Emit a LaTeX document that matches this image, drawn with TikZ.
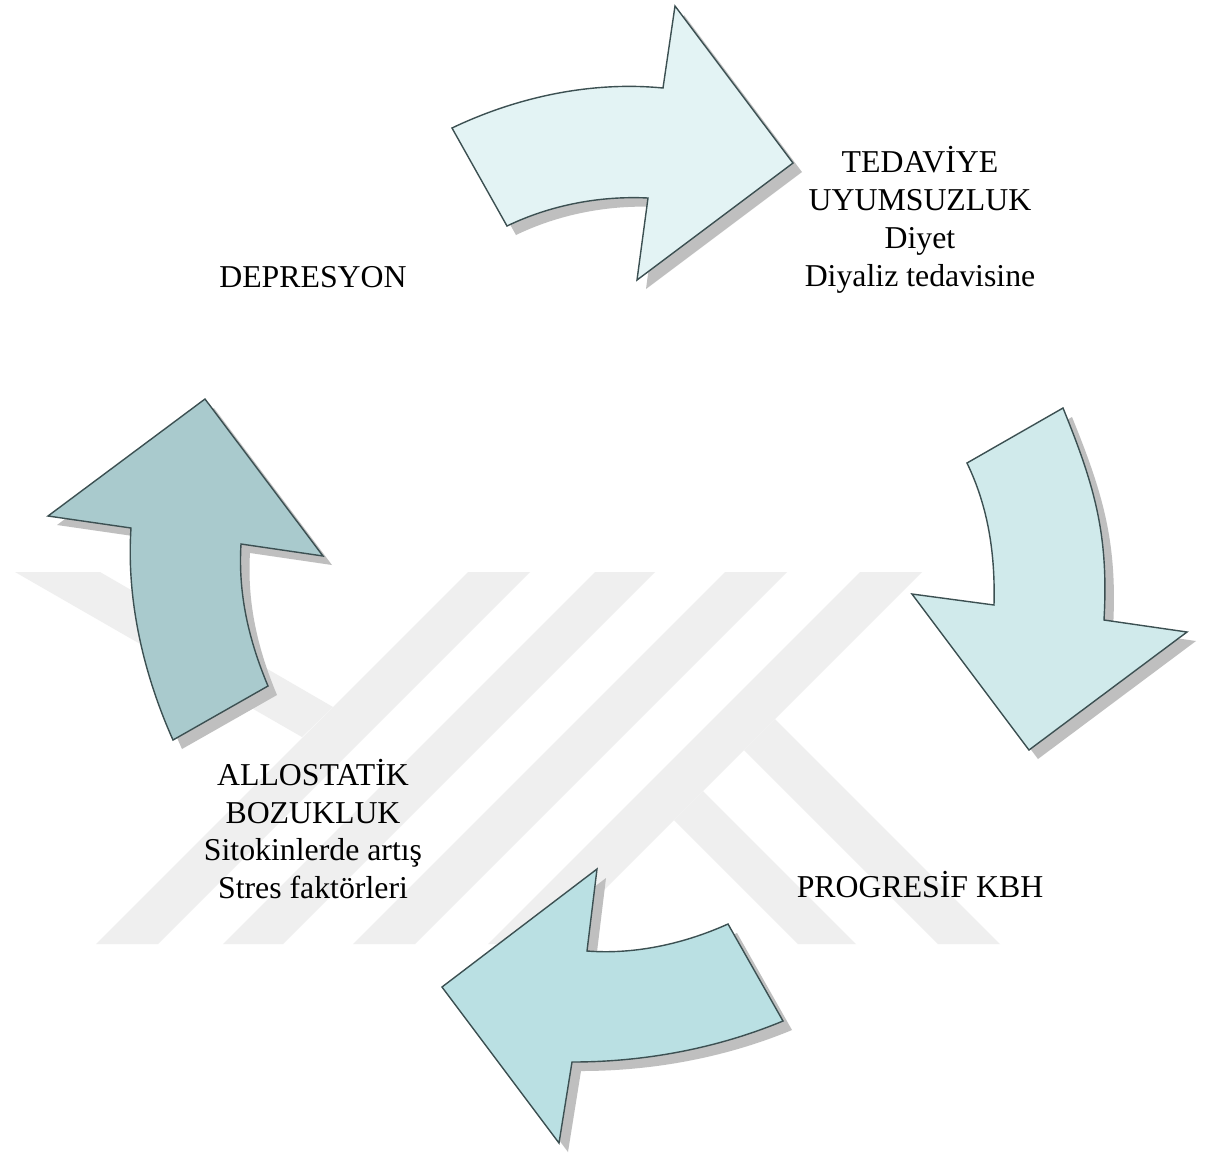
\documentclass[tikz,border=0pt]{standalone}
\usepackage{fontspec}
\setmainfont{Liberation Serif}
\definecolor{wmc}{HTML}{EFEFEF}
\definecolor{shadowc}{HTML}{BFBFBF}
\definecolor{edgec}{HTML}{3C5052}
\definecolor{fillone}{HTML}{E3F3F4}
\definecolor{filltwo}{HTML}{D0EAEB}
\definecolor{fillthree}{HTML}{BAE0E3}
\definecolor{fillfour}{HTML}{A9CACD}
\begin{document}
\begin{tikzpicture}[x=0.5pt,y=-0.5pt,
  wmark/.style={fill=wmc},
  arrowline/.style={draw=edgec, line width=0.7pt, line join=miter},
  shadowfill/.style={fill=shadowc},
  lbl/.style={font=\fontsize{15.9}{18.9}\selectfont, align=center, inner sep=0pt, text=black},
  toppath/.style={insert path={(452,128) .. controls (517,97) and (591,81) .. (663,88) -- (675,6) -- (793,163) -- (637,280) -- (648,198) .. controls (600,195.6) and (550.2,205.1) .. (507,226) -- cycle}},
  rightpath/.style={insert path={(967,463) -- (1063,408) .. controls (1095,486.7) and (1108.8,535.2) .. (1104,620) -- (1187,632) -- (1029,750) -- (912,594) -- (994,605) .. controls (995.3,555) and (988.7,508) .. (967,463) -- cycle}},
  bottompath/.style={insert path={(597,869) -- (587,951) .. controls (634.9,954.7) and (684.3,943.7) .. (728,924) -- (783,1021) .. controls (716.5,1048.6) and (644,1062) .. (572,1062) -- (559,1143) -- (442,987) -- cycle}},
  leftpath/.style={insert path={(205,399) -- (323,556) -- (241,544) .. controls (238,594) and (248.7,639.9) .. (268,686) -- (173,740) .. controls (143.6,674.3) and (126.2,599.9) .. (131,528) -- (48,516) -- cycle}}
]
\useasboundingbox (0,0) rectangle (1206,1153);
\fill[white] (0,0) rectangle (1206,1153);

% watermark
\fill[wmark] (15,572) -- (100,572) -- (333,707) -- (302,737) -- cycle;
\fill[wmark] (468,572) -- (530,572) -- (158,944) -- (96,944) -- cycle;
\fill[wmark] (595,572) -- (655,572) -- (283,944) -- (223,944) -- cycle;
\fill[wmark] (725,572) -- (787,572) -- (415,944) -- (353,944) -- cycle;
\fill[wmark] (860,572) -- (922,572) -- (550,944) -- (488,944) -- cycle;
\fill[wmark] (674,820) -- (703,791) -- (856,944) -- (798,944) -- cycle;
\fill[wmark] (744,750) -- (775,719) -- (1000,944) -- (938,944) -- cycle;

% shadows
\fill[shadowfill, shift={(9,9)}, toppath];
\fill[shadowfill, shift={(9,9)}, rightpath];
\fill[shadowfill, shift={(9,9)}, bottompath];
\fill[shadowfill, shift={(9,9)}, leftpath];

% arrows
\path[arrowline, fill=fillone, toppath];
\path[arrowline, fill=filltwo, rightpath];
\path[arrowline, fill=fillthree, bottompath];
\path[arrowline, fill=fillfour, leftpath];

% labels
\node[lbl] (dep) at (313,277) {DEPRESYON};
\node[lbl] (ted) at (920,220) {TEDAVİYE\\UYUMSUZLUK\\Diyet\\Diyaliz tedavisine};
\node[lbl] (allo) at (313,829) {ALLOSTATİK\\BOZUKLUK\\Sitokinlerde artış\\Stres faktörleri};
\node[lbl] (prog) at (920,885) {PROGRESİF KBH};
\end{tikzpicture}
\end{document}
